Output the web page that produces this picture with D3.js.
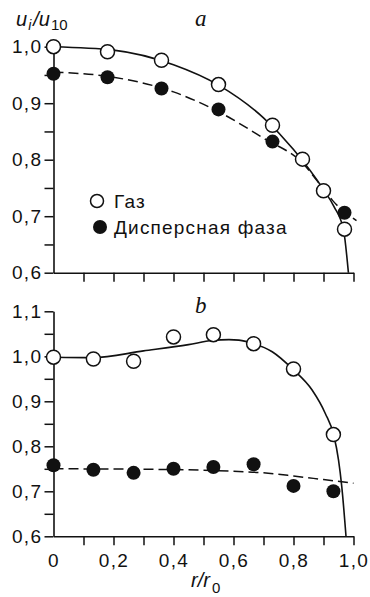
<!DOCTYPE html>
<html>
<head>
<meta charset="utf-8">
<script src="https://cdn.jsdelivr.net/npm/d3@7"></script>
<style>
  body { margin: 0; background: #fff; }
  svg { display: block; }
  text { font-family: "Liberation Sans", Arial, sans-serif; fill: #111; }
</style>
</head>
<body>
<svg id="chart" width="370" height="597"></svg>
<script>
// panel a: points
var gasA_r = [0, 0.18, 0.36, 0.55, 0.73, 0.83, 0.9, 0.97];
var gasA_u = [1.0, 0.991, 0.976, 0.933, 0.861, 0.801, 0.745, 0.677];
var dispA_r = [0, 0.18, 0.36, 0.55, 0.73, 0.97];
var dispA_u = [0.952, 0.946, 0.926, 0.889, 0.832, 0.706];
// panel a: fitted curves
var fitGasA_r = [0, 0.2, 0.4, 0.55, 0.7, 0.8, 0.9, 0.935, 0.967, 0.983];
var fitGasA_u = [1.0, 0.994, 0.968, 0.932, 0.874, 0.818, 0.747, 0.717, 0.675, 0.6];
var fitDispA_r = [0, 0.2, 0.4, 0.55, 0.7, 0.83, 0.9, 0.93, 1.01];
var fitDispA_u = [0.955, 0.946, 0.92, 0.885, 0.838, 0.794, 0.748, 0.728, 0.692];

// panel b: points
var gasB_r = [0, 0.133, 0.267, 0.4, 0.533, 0.667, 0.8, 0.933];
var gasB_u = [0.998, 0.994, 0.989, 1.043, 1.048, 1.028, 0.972, 0.826];
var dispB_r = [0, 0.133, 0.267, 0.4, 0.533, 0.667, 0.8, 0.933];
var dispB_u = [0.758, 0.748, 0.741, 0.750, 0.754, 0.760, 0.712, 0.700];
// panel b: fitted curves
var fitGasB_r = [0, 0.131, 0.3, 0.45, 0.529, 0.585, 0.618, 0.668, 0.729, 0.798, 0.862, 0.906, 0.934, 0.95, 0.961, 0.975];
var fitGasB_u = [0.998, 0.997, 1.012, 1.026, 1.035, 1.037, 1.036, 1.028, 1.010, 0.971, 0.925, 0.873, 0.825, 0.770, 0.710, 0.6];
var fitDispB_r = [0, 0.3, 0.585, 0.7, 0.8, 0.9, 1.0];
var fitDispB_u = [0.750, 0.749, 0.745, 0.741, 0.734, 0.726, 0.718];

var xTicks = [0.1, 0.2, 0.3, 0.4, 0.5, 0.6, 0.7, 0.8, 0.9, 1.0];
var xLabels = [0, 0.2, 0.4, 0.6, 0.8, 1.0];
var legendLabels = ["Газ", "Дисперсная фаза"];

var svg = d3.select("#chart");
svg.append("rect").attr("width", 370).attr("height", 597).attr("fill", "#fff");

var x = d3.scaleLinear().domain([0, 1]).range([53.5, 353.5]);
var yA = d3.scaleLinear().domain([0.6, 1.0]).range([272.7, 46.7]);
var yB = d3.scaleLinear().domain([0.6, 1.1]).range([536.3, 311.3]);

function comma(v) {
  if (v === 0) return "0";
  return d3.format(".1f")(v).replace(".", ",");
}

function zip(rs, us) {
  return rs.map(function(r, i) { return [r, us[i]]; });
}

function drawPanel(y, yTop, gas, disp, fitGas, fitDisp, withLabels) {
  var g = svg.append("g");

  // y axis
  var yTicks = d3.range(0.6, yTop + 0.001, 0.05).map(function(v) { return +v.toFixed(2); });
  var yAxis = d3.axisLeft(y)
    .tickValues(yTicks)
    .tickSize(9)
    .tickSizeOuter(0)
    .tickPadding(2)
    .tickFormat(function(v) {
      return Math.abs(v * 10 - Math.round(v * 10)) < 1e-6 ? comma(v) : "";
    });
  var ya = g.append("g").attr("transform", "translate(" + x(0) + ",0)").call(yAxis);

  // x axis
  var xAxis = d3.axisBottom(x)
    .tickValues(withLabels ? [0].concat(xTicks) : xTicks)
    .tickSize(9)
    .tickSizeOuter(0)
    .tickPadding(8)
    .tickFormat(function(v) {
      if (!withLabels) return "";
      return xLabels.some(function(l) { return Math.abs(l - v) < 1e-6; }) ? comma(v) : "";
    });
  var xa = g.append("g").attr("transform", "translate(0," + y(0.6) + ")").call(xAxis);

  [ya, xa].forEach(function(a) {
    a.select(".domain").attr("stroke", "#111").attr("stroke-width", 1.6);
    a.selectAll(".tick line").attr("stroke", "#111").attr("stroke-width", 1.5);
    a.selectAll(".tick text")
      .style("font-family", "'Liberation Sans', Arial, sans-serif")
      .style("font-size", "19px")
      .style("letter-spacing", "1.4px")
      .attr("fill", "#111");
  });
  xa.selectAll(".tick line").filter(function(d) { return d === 0; }).remove();

  var line = d3.line()
    .x(function(d) { return x(d[0]); })
    .y(function(d) { return y(d[1]); })
    .curve(d3.curveMonotoneX);

  g.append("path").datum(fitDisp).attr("d", line)
    .attr("fill", "none").attr("stroke", "#111").attr("stroke-width", 1.5)
    .attr("stroke-dasharray", "10,5");
  g.append("path").datum(fitGas).attr("d", line)
    .attr("fill", "none").attr("stroke", "#111").attr("stroke-width", 1.6);

  g.selectAll(".disp").data(disp).enter().append("circle")
    .attr("cx", function(d) { return x(d[0]); })
    .attr("cy", function(d) { return y(d[1]); })
    .attr("r", 7)
    .attr("fill", "#111");
  g.selectAll(".gas").data(gas).enter().append("circle")
    .attr("cx", function(d) { return x(d[0]); })
    .attr("cy", function(d) { return y(d[1]); })
    .attr("r", 7)
    .attr("fill", "#fff").attr("stroke", "#111").attr("stroke-width", 1.5);
}

drawPanel(yA, 1.0, zip(gasA_r, gasA_u), zip(dispA_r, dispA_u),
  zip(fitGasA_r, fitGasA_u), zip(fitDispA_r, fitDispA_u), false);
drawPanel(yB, 1.1, zip(gasB_r, gasB_u), zip(dispB_r, dispB_u),
  zip(fitGasB_r, fitGasB_u), zip(fitDispB_r, fitDispB_u), true);

// legend
var leg = svg.append("g");
leg.append("circle").attr("cx", 97).attr("cy", 201).attr("r", 6.5)
  .attr("fill", "#fff").attr("stroke", "#111").attr("stroke-width", 1.5);
leg.append("circle").attr("cx", 100).attr("cy", 227).attr("r", 7).attr("fill", "#111");
leg.selectAll("text.l").data(legendLabels).enter().append("text")
  .attr("x", 114)
  .attr("y", function(d, i) { return 207.5 + i * 26; })
  .style("font-size", "19px")
  .style("letter-spacing", "1.2px")
  .text(function(d) { return d; });

// panel letters
svg.append("text").attr("x", 195).attr("y", 26)
  .style("font-family", "'Liberation Serif', 'Times New Roman', serif")
  .style("font-style", "italic").style("font-size", "23px").text("a");
svg.append("text").attr("x", 195).attr("y", 313)
  .style("font-family", "'Liberation Serif', 'Times New Roman', serif")
  .style("font-style", "italic").style("font-size", "23px").text("b");

// y label u_i/u_10
var yl = svg.append("text").attr("x", 16).attr("y", 26)
  .style("font-size", "20px").style("font-style", "italic");
yl.append("tspan").text("u");
yl.append("tspan").attr("dx", 1).attr("dy", 4).style("font-size", "14px").text("i");
yl.append("tspan").attr("dx", 2).attr("dy", -4).text("/u");
yl.append("tspan").attr("dx", 1).attr("dy", 4).style("font-size", "15px").style("font-style", "normal").text("10");

// x label r/r_0
var xl = svg.append("text").attr("x", 191).attr("y", 587)
  .style("font-size", "20px").style("font-style", "italic");
xl.append("tspan").text("r/r");
xl.append("tspan").attr("dx", 2).attr("dy", 6).style("font-size", "15px").style("font-style", "normal").text("0");
</script>
</body>
</html>
